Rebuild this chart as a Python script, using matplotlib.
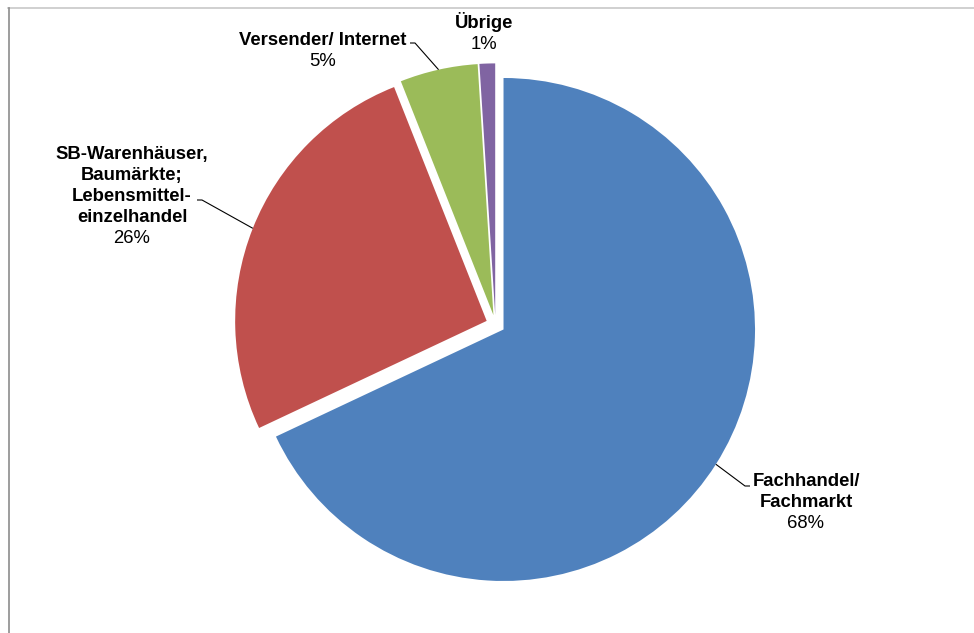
import matplotlib.pyplot as plt
import numpy as np

# Vertriebswege - Anteile in Prozent
labels = ["Fachhandel/\nFachmarkt",
          "SB-Warenhäuser,\nBaumärkte;\nLebensmittel-\neinzelhandel",
          "Versender/ Internet",
          "Übrige"]
shares = [68, 26, 5, 1]
colors = ["#4F81BD", "#C0504D", "#9BBB59", "#8064A2"]

W, H = 974, 633
plt.rcParams['font.family'] = ['Liberation Sans', 'DejaVu Sans']

fig = plt.figure(figsize=(W / 100, H / 100), dpi=100)
ax = fig.add_axes([0, 0, 1, 1])

# all slices pulled out a little (explode is in data units = pixels here),
# first slice starts at 12 o'clock
wedges, _ = ax.pie(shares, colors=colors, startangle=90, counterclock=False,
                   center=(495.5, H - 324.4), radius=251.5,
                   explode=[9.5] * len(shares), frame=True)
ax.set_xlim(0, W)
ax.set_ylim(0, H)
ax.set_aspect('equal')
ax.axis('off')

# label anchors (centre x, first baseline from top) and leader line ends
# (end x, end y, side of the short horizontal stub)
label_pos = [(806, 486), (132, 159.5), (323, 45), (484, 28)]
leader_end = [(750, 486, -1), (197, 200, 1), (410, 43, 1), None]
step = 20.8
fs = 13.3

for w, lab, val, pos, lead in zip(wedges, labels, shares, label_pos, leader_end):
    x, y0 = pos
    lines = lab.split("\n")
    for i, line in enumerate(lines):
        ax.text(x, H - (y0 + i * step), line, ha='center', va='baseline',
                fontsize=fs, fontweight='bold', color='black')
    ax.text(x, H - (y0 + len(lines) * step), f"{val}%", ha='center',
            va='baseline', fontsize=fs, color='black')
    if lead is not None:
        # leader from middle of the slice's arc to the label
        mid = np.deg2rad((w.theta1 + w.theta2) / 2)
        cx, cy = w.center
        px = cx + w.r * np.cos(mid)
        py = cy + w.r * np.sin(mid)
        ex, ey, d = lead
        ax.plot([px, ex + d * 5, ex], [py, H - ey, H - ey],
                color='black', lw=0.8, solid_capstyle='butt')

# chart area frame
ax.plot([8, W], [H - 7.5, H - 7.5], color='#c8c8c8', lw=1.2, clip_on=False)
ax.plot([8.5, 8.5], [H - 7.5, 0], color='#8c8c8c', lw=1.2, clip_on=False)

fig.savefig("out.png", dpi=100)
